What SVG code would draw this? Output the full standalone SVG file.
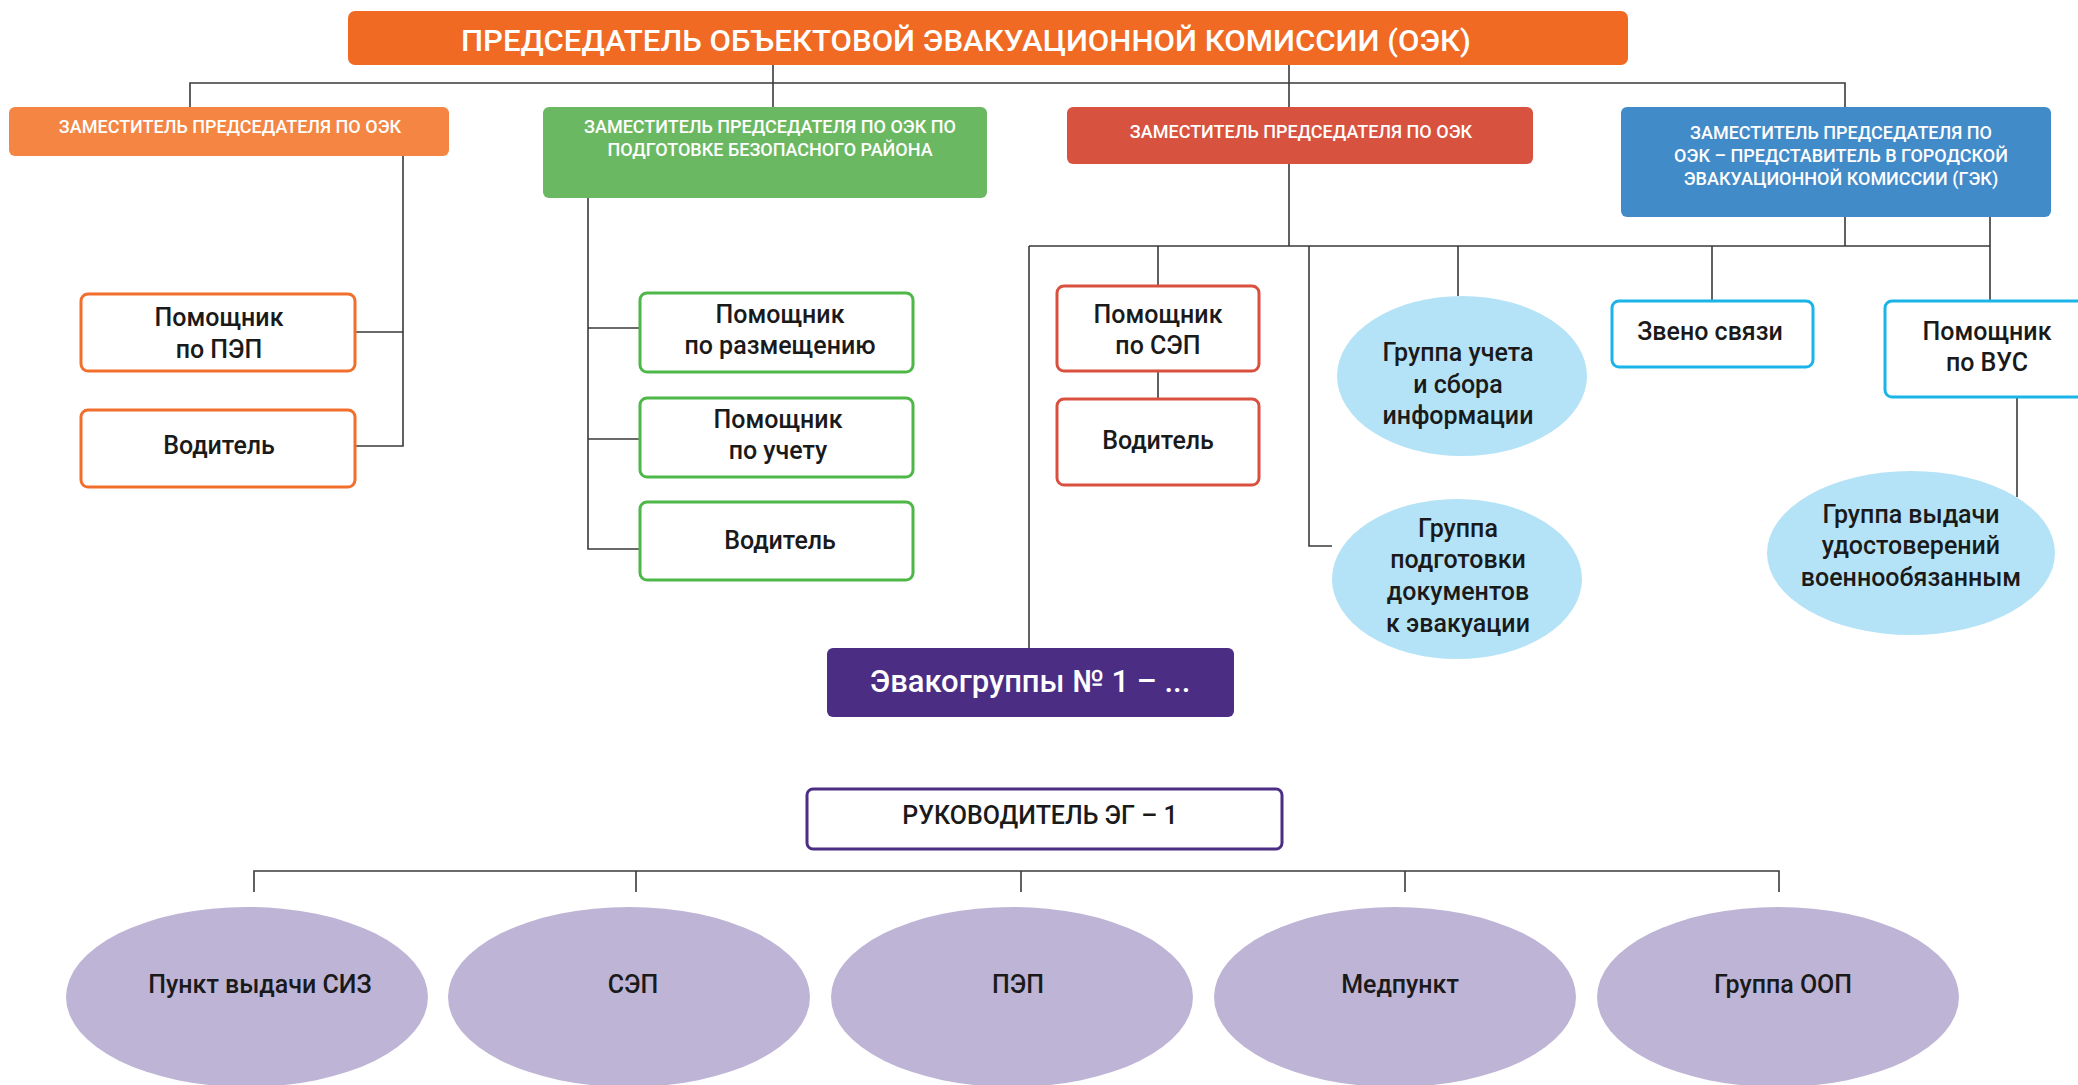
<svg xmlns="http://www.w3.org/2000/svg" width="2078" height="1085" viewBox="0 0 2078 1085">
<style>
  .ln{fill:none;stroke:#3a3a3a;stroke-width:1.6}
  .hd{fill:#fff;font-family:Roboto,"Liberation Sans",Arial,sans-serif;font-weight:500;font-size:18px;text-anchor:middle}
  .tx{fill:#1a1a1a;font-family:Roboto,"Liberation Sans",Arial,sans-serif;font-weight:500;font-size:25px;text-anchor:middle}
  .ob{fill:#fff;stroke:#F26E2C;stroke-width:3}
  .gb{fill:#fff;stroke:#4DB848;stroke-width:3}
  .rb{fill:#fff;stroke:#D9503F;stroke-width:3}
  .cb{fill:#fff;stroke:#1BB4E8;stroke-width:3}
  .lb{fill:#B4E3F7}
  .lv{fill:#BEB5D6}
</style>
<rect width="2078" height="1085" fill="#fff"/>
<g id="connectors">
  <path class="ln" d="M190,107 V83 H1845 V107"/>
  <path class="ln" d="M773,65 V107"/>
  <path class="ln" d="M1289,65 V107"/>
  <path class="ln" d="M403,156 V446 H355 M403,332 H355"/>
  <path class="ln" d="M588,198 V549 H640 M588,328 H640 M588,439 H640"/>
  <path class="ln" d="M1289,164 V246 M1029,246 H1990 M1029,246 V648"/>
  <path class="ln" d="M1158,246 V286 M1158,371 V399"/>
  <path class="ln" d="M1309,246 V546 H1332"/>
  <path class="ln" d="M1458,246 V296"/>
  <path class="ln" d="M1712,246 V301"/>
  <path class="ln" d="M1845,217 V246 M1990,217 V301"/>
  <path class="ln" d="M2017,397 V497"/>
  <path class="ln" d="M254,892 V871 H1779 V892 M636,871 V892 M1021,871 V892 M1405,871 V892"/>
</g>
<g id="chair">
  <rect x="348" y="11" width="1280" height="54" rx="7" fill="#F06A24"/>
  <text x="461" y="51" fill="#fff" font-family="Roboto,Liberation Sans,Arial,sans-serif" font-weight="500" font-size="30" textLength="1010" lengthAdjust="spacingAndGlyphs">ПРЕДСЕДАТЕЛЬ ОБЪЕКТОВОЙ ЭВАКУАЦИОННОЙ КОМИССИИ (ОЭК)</text>
</g>
<g id="dep1">
  <rect x="9" y="107" width="440" height="49" rx="6" fill="#F48542"/>
  <text class="hd" x="230" y="133">ЗАМЕСТИТЕЛЬ ПРЕДСЕДАТЕЛЯ ПО ОЭК</text>
</g>
<g id="dep2">
  <rect x="543" y="107" width="444" height="91" rx="6" fill="#6BB862"/>
  <text class="hd" x="770" y="133">ЗАМЕСТИТЕЛЬ ПРЕДСЕДАТЕЛЯ ПО ОЭК ПО</text>
  <text class="hd" x="770" y="156">ПОДГОТОВКЕ БЕЗОПАСНОГО РАЙОНА</text>
</g>
<g id="dep3">
  <rect x="1067" y="107" width="466" height="57" rx="6" fill="#D85240"/>
  <text class="hd" x="1301" y="138">ЗАМЕСТИТЕЛЬ ПРЕДСЕДАТЕЛЯ ПО ОЭК</text>
</g>
<g id="dep4">
  <rect x="1621" y="107" width="430" height="110" rx="6" fill="#428BC9"/>
  <text class="hd" x="1841" y="139">ЗАМЕСТИТЕЛЬ ПРЕДСЕДАТЕЛЯ ПО</text>
  <text class="hd" x="1841" y="162">ОЭК – ПРЕДСТАВИТЕЛЬ В ГОРОДСКОЙ</text>
  <text class="hd" x="1841" y="185">ЭВАКУАЦИОННОЙ КОМИССИИ (ГЭК)</text>
</g>
<g id="pep">
  <rect class="ob" x="81" y="294" width="274" height="77" rx="7"/>
  <text class="tx" x="219" y="326">Помощник</text>
  <text class="tx" x="219" y="358">по ПЭП</text>
</g>
<g id="driver1">
  <rect class="ob" x="81" y="410" width="274" height="77" rx="7"/>
  <text class="tx" x="219" y="454">Водитель</text>
</g>
<g id="placement">
  <rect class="gb" x="640" y="293" width="273" height="79" rx="7"/>
  <text class="tx" x="780" y="323">Помощник</text>
  <text class="tx" x="780" y="354">по размещению</text>
</g>
<g id="accounting">
  <rect class="gb" x="640" y="398" width="273" height="79" rx="7"/>
  <text class="tx" x="778" y="428">Помощник</text>
  <text class="tx" x="778" y="459">по учету</text>
</g>
<g id="driver2">
  <rect class="gb" x="640" y="502" width="273" height="78" rx="7"/>
  <text class="tx" x="780" y="549">Водитель</text>
</g>
<g id="sep">
  <rect class="rb" x="1057" y="286" width="202" height="85" rx="7"/>
  <text class="tx" x="1158" y="323">Помощник</text>
  <text class="tx" x="1158" y="354">по СЭП</text>
</g>
<g id="driver3">
  <rect class="rb" x="1057" y="399" width="202" height="86" rx="7"/>
  <text class="tx" x="1158" y="449">Водитель</text>
</g>
<g id="info">
  <ellipse class="lb" cx="1462" cy="376" rx="125" ry="80"/>
  <text class="tx" x="1458" y="361">Группа учета</text>
  <text class="tx" x="1458" y="393">и сбора</text>
  <text class="tx" x="1458" y="424">информации</text>
</g>
<g id="docs">
  <ellipse class="lb" cx="1457" cy="579" rx="125" ry="80"/>
  <text class="tx" x="1458" y="537">Группа</text>
  <text class="tx" x="1458" y="568">подготовки</text>
  <text class="tx" x="1458" y="600">документов</text>
  <text class="tx" x="1458" y="632">к эвакуации</text>
</g>
<g id="comm">
  <rect class="cb" x="1612" y="301" width="201" height="66" rx="7"/>
  <text class="tx" x="1710" y="340">Звено связи</text>
</g>
<g id="vus">
  <rect class="cb" x="1885" y="301" width="206" height="96" rx="7"/>
  <text class="tx" x="1987" y="340">Помощник</text>
  <text class="tx" x="1987" y="371">по ВУС</text>
</g>
<g id="ids">
  <ellipse class="lb" cx="1911" cy="553" rx="144" ry="82"/>
  <text class="tx" x="1911" y="523">Группа выдачи</text>
  <text class="tx" x="1911" y="554">удостоверений</text>
  <text class="tx" x="1911" y="586">военнообязанным</text>
</g>
<g id="evac">
  <rect x="827" y="648" width="407" height="69" rx="6" fill="#4B2D84"/>
  <text x="1030" y="692" fill="#fff" font-family="Roboto,Liberation Sans,Arial,sans-serif" font-weight="500" font-size="31" text-anchor="middle">Эвакогруппы № 1 – ...</text>
</g>
<g id="leader">
  <rect x="807" y="789" width="475" height="60" rx="6" fill="#fff" stroke="#4B2D84" stroke-width="3"/>
  <text class="tx" x="1040" y="824">РУКОВОДИТЕЛЬ ЭГ – 1</text>
</g>
<g id="siz">
  <ellipse class="lv" cx="247" cy="997" rx="181" ry="90"/>
  <text class="tx" x="260" y="993">Пункт выдачи СИЗ</text>
</g>
<g id="sep2">
  <ellipse class="lv" cx="629" cy="997" rx="181" ry="90"/>
  <text class="tx" x="633" y="993">СЭП</text>
</g>
<g id="pep2">
  <ellipse class="lv" cx="1012" cy="997" rx="181" ry="90"/>
  <text class="tx" x="1018" y="993">ПЭП</text>
</g>
<g id="med">
  <ellipse class="lv" cx="1395" cy="997" rx="181" ry="90"/>
  <text class="tx" x="1400" y="993">Медпункт</text>
</g>
<g id="oop">
  <ellipse class="lv" cx="1778" cy="997" rx="181" ry="90"/>
  <text class="tx" x="1783" y="993">Группа ООП</text>
</g>
</svg>
